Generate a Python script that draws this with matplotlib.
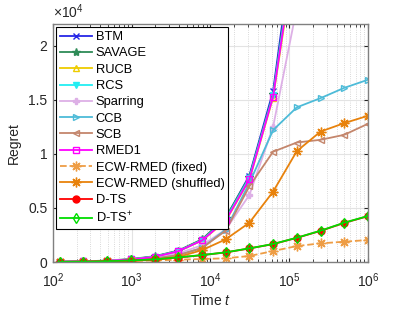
import matplotlib
matplotlib.use("Agg")
import matplotlib.pyplot as plt
from matplotlib.ticker import FuncFormatter, LogLocator, FixedLocator

plt.rcParams['font.family'] = ['Liberation Sans', 'DejaVu Sans']
plt.rcParams['mathtext.fontset'] = 'custom'
plt.rcParams['mathtext.rm'] = 'Liberation Sans'
plt.rcParams['mathtext.it'] = 'Liberation Sans:italic'

# time points where markers sit
t = [122, 244, 488, 977, 1953, 3906, 7813, 15625, 31250, 62500,
     125000, 250000, 500000, 1000000]

# regret (curves that leave the top stop early)
btm = [30, 62, 125, 250, 510, 1020, 2050, 4050, 8000, 15800, 32000]
savage = [35, 70, 140, 280, 540, 1060, 2100, 4100, 7900, 15500, 31000]
rucb = [30, 60, 120, 240, 480, 990, 1990, 3800, 7600, 15200, 29500]
rcs = [30, 60, 125, 245, 500, 1010, 2020, 3950, 7800, 15400, 30500]
sparring = [25, 50, 100, 200, 400, 800, 1550, 3000, 6200, 12500, 23500]
ccb = [20, 40, 80, 160, 320, 640, 1300, 3000, 7300, 12200, 14300, 15150, 16100, 16850]
scb = [20, 40, 80, 160, 320, 640, 1300, 2900, 7000, 10200, 11050, 11300, 11760, 12780]
rmed1 = [30, 60, 120, 240, 480, 1000, 2000, 3850, 7660, 15300, 30000]
ecw_fixed = [10, 25, 50, 90, 150, 220, 280, 350, 560, 1020, 1480, 1730, 1880, 2040]
ecw_shuffled = [15, 35, 70, 110, 220, 480, 1100, 2100, 3640, 6510, 10250, 12060, 12840, 13520]
dts = [20, 40, 75, 145, 245, 420, 640, 890, 1260, 1660, 2240, 2880, 3620, 4240]
dts_plus = [20, 40, 80, 150, 250, 430, 650, 900, 1270, 1670, 2250, 2900, 3640, 4260]

asterisk = (8, 2, 0)

series = [
    ("BTM", btm, '#2626E6', 'x', '-', 'full', 5),
    ("SAVAGE", savage, '#2E8B57', '*', '-', 'full', 6),
    ("RUCB", rucb, '#EECC00', '^', '-', 'none', 5),
    ("RCS", rcs, '#22EEF2', 'v', '-', 'full', 5),
    ("Sparring", sparring, '#DDB0E6', 'P', '-', 'full', 5),
    ("CCB", ccb, '#4DBBD8', '>', '-', 'none', 5),
    ("SCB", scb, '#C4866C', '<', '-', 'none', 5),
    ("RMED1", rmed1, '#FF00FF', 's', '-', 'none', 5),
    ("ECW-RMED (fixed)", ecw_fixed, '#EE9D45', asterisk, '--', 'full', 7),
    ("ECW-RMED (shuffled)", ecw_shuffled, '#E8820C', asterisk, '-', 'full', 7),
    ("D-TS", dts, '#FF0000', 'o', '-', 'full', 5),
    ("D-TS$^{+}$", dts_plus, '#00DD00', 'd', '-', 'none', 5),
]

fig = plt.figure(figsize=(4.07, 3.12), dpi=100)
ax = fig.add_axes([0.130, 0.160, 0.774, 0.763])

for name, vals, col, mk, ls, fill, ms in series:
    ax.plot(t[:len(vals)], vals, color=col, linestyle=ls, linewidth=1.3,
            marker=mk, markersize=ms, fillstyle=fill, markeredgewidth=1.0,
            label=name)

ax.set_xscale('log')
ax.set_xlim(1e2, 1e6)
ax.set_ylim(0, 22000)
ax.yaxis.set_major_locator(FixedLocator([0, 5000, 10000, 15000, 20000]))
ax.yaxis.set_major_formatter(FuncFormatter(lambda v, p: '%g' % (v / 1e4)))
ax.xaxis.set_minor_locator(LogLocator(base=10, subs=range(2, 10)))

ax.grid(True, which='major', color='#e3e3e3', linewidth=0.8, linestyle='-')
ax.grid(True, which='minor', axis='x', color='#cccccc', linewidth=0.6, linestyle=':')
ax.set_axisbelow(True)

ax.tick_params(which='both', direction='in', top=True, right=True,
               labelsize=10, colors='#262626', length=3)
ax.tick_params(which='minor', length=2)
ax.tick_params(axis='x', which='major', pad=7)
ax.tick_params(axis='y', which='major', pad=4)
for sp in ax.spines.values():
    sp.set_color('#808080')
    sp.set_linewidth(1.0)

ax.text(0.0, 1.012, r'$\times10^{4}$', transform=ax.transAxes,
        ha='left', va='bottom', fontsize=10, color='#262626')

ax.set_xlabel('Time $t$', fontsize=10, color='#262626', labelpad=2)
ax.set_ylabel('Regret', fontsize=10, color='#262626', labelpad=5)

leg = ax.legend(loc='upper left', fontsize=9.3, frameon=True, fancybox=False,
                edgecolor='black', framealpha=1.0, borderaxespad=0.25,
                labelspacing=0.33, handlelength=2.5, handletextpad=0.25,
                borderpad=0.3)
leg.get_frame().set_linewidth(0.8)

fig.savefig('out.png', dpi=100)
